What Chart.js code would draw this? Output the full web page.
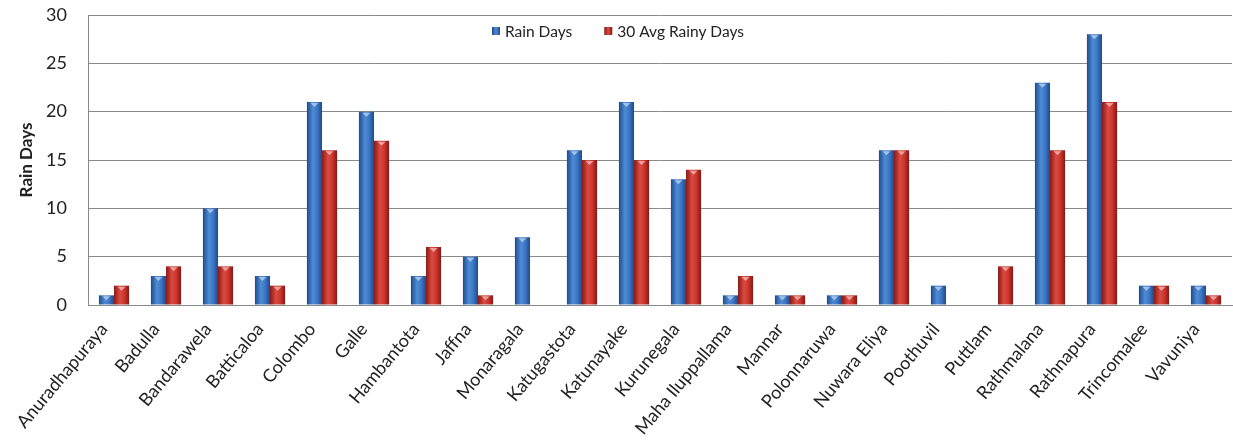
<!DOCTYPE html>
<html>
<head>
<meta charset="utf-8">
<script src="https://cdn.jsdelivr.net/npm/chart.js@4.4.0/dist/chart.umd.min.js"></script>
<style>
  body { margin: 0; background: #fff; }
  #wrap { width: 1233px; height: 446px; position: relative; }
</style>
</head>
<body>
<div id="wrap"><canvas id="chart"></canvas></div>
<script>
var stations = ['Anuradhapuraya', 'Badulla', 'Bandarawela', 'Batticaloa', 'Colombo', 'Galle',
  'Hambantota', 'Jaffna', 'Monaragala', 'Katugastota', 'Katunayake', 'Kurunegala',
  'Maha Iluppallama', 'Mannar', 'Polonnaruwa', 'Nuwara Eliya', 'Poothuvil', 'Puttlam',
  'Rathmalana', 'Rathnapura', 'Trincomalee', 'Vavuniya'];
var rainDays = [1, 3, 10, 3, 21, 20, 3, 5, 7, 16, 21, 13, 1, 1, 1, 16, 2, 0, 23, 28, 2, 2];
var avgRainyDays = [2, 4, 4, 2, 16, 17, 6, 1, 0, 15, 15, 14, 3, 1, 1, 16, 0, 4, 16, 21, 2, 1];
var yTicks = [0, 5, 10, 15, 20, 25, 30];

var fontFamily = "Lato, 'Open Sans', sans-serif";

// dark edge, light middle, dark edge
var shades = [
  ['#1d4c8c', '#4f8bd6', '#3a74c4', '#1d4a88'],
  ['#8a1a16', '#dc4a42', '#c9342d', '#861712']
];

var shadePlugin = {
  id: 'shade',
  beforeDatasetsDraw: function(chart) {
    var ctx = chart.ctx;
    chart.data.datasets.forEach(function(ds, i) {
      var meta = chart.getDatasetMeta(i);
      var c = shades[i];
      meta.data.forEach(function(bar) {
        var left = bar.x - bar.width / 2;
        var g = ctx.createLinearGradient(left, 0, left + bar.width, 0);
        g.addColorStop(0, c[0]);
        g.addColorStop(0.4, c[1]);
        g.addColorStop(0.7, c[2]);
        g.addColorStop(1, c[3]);
        // own options object per bar, the resolved one is shared
        bar.options = Object.assign({}, bar.options, { backgroundColor: g });
      });
    });
  },
  afterDatasetsDraw: function(chart) {
    var ctx = chart.ctx;
    chart.data.datasets.forEach(function(ds, i) {
      var meta = chart.getDatasetMeta(i);
      meta.data.forEach(function(bar) {
        if (bar.base - bar.y < 3) return;
        var cx = bar.x;
        ctx.save();
        ctx.fillStyle = 'rgba(255,255,255,0.5)';
        ctx.beginPath();
        ctx.moveTo(cx - 4, bar.y + 1);
        ctx.lineTo(cx + 4, bar.y + 1);
        ctx.lineTo(cx, bar.y + 5);
        ctx.closePath();
        ctx.fill();
        ctx.restore();
      });
    });
  }
};

// legend sits inside the plot, a bit left of centre
var legendPlugin = {
  id: 'insideLegend',
  afterDraw: function(chart) {
    var ctx = chart.ctx;
    var items = chart.data.datasets;
    var box = 8, gap = 5, spacing = 32;
    ctx.save();
    ctx.font = '15.5px ' + fontFamily;
    ctx.textBaseline = 'middle';
    var total = 0;
    items.forEach(function(ds, i) {
      total += box + gap + ctx.measureText(ds.label).width;
      if (i < items.length - 1) total += spacing;
    });
    var x = 618 - total / 2;
    var y = 31;
    items.forEach(function(ds, i) {
      var g = ctx.createLinearGradient(x, 0, x + box, 0);
      g.addColorStop(0, shades[i][0]);
      g.addColorStop(0.5, shades[i][1]);
      g.addColorStop(1, shades[i][3]);
      ctx.fillStyle = g;
      ctx.fillRect(x, y - box / 2, box, box);
      x += box + gap;
      ctx.fillStyle = '#222';
      ctx.fillText(ds.label, x, y + 1);
      x += ctx.measureText(ds.label).width + spacing;
    });
    ctx.restore();
  }
};

new Chart(document.getElementById('chart'), {
  type: 'bar',
  data: {
    labels: stations,
    datasets: [
      { label: 'Rain Days', data: rainDays, backgroundColor: '#2f6cc0', borderWidth: 0 },
      { label: '30 Avg Rainy Days', data: avgRainyDays, backgroundColor: '#c9302b', borderWidth: 0 }
    ]
  },
  options: {
    responsive: true,
    maintainAspectRatio: false,
    animation: false,
    layout: { padding: { top: 15, right: 1, left: 0, bottom: 0 } },
    datasets: { bar: { categoryPercentage: 0.58, barPercentage: 1 } },
    plugins: {
      tooltip: { enabled: false },
      legend: { display: false }
    },
    scales: {
      x: {
        grid: { display: false },
        border: { display: true, color: '#8a8a8a', width: 1 },
        ticks: {
          autoSkip: false,
          maxRotation: 50,
          minRotation: 50,
          padding: 6,
          labelOffset: -10,
          color: '#222',
          font: { family: fontFamily, size: 18 }
        },
        afterFit: function(scale) { scale.height = 141; }
      },
      y: {
        min: 0,
        max: 30,
        afterBuildTicks: function(scale) {
          scale.ticks = yTicks.map(function(v) { return { value: v }; });
        },
        grid: { color: '#8a8a8a', drawTicks: false },
        border: { display: true, color: '#8a8a8a', width: 1 },
        ticks: {
          padding: 21,
          color: '#222',
          font: { family: fontFamily, size: 18 }
        },
        title: {
          display: true,
          text: 'Rain Days',
          color: '#222',
          padding: { top: 16, bottom: 0 },
          font: { family: fontFamily, size: 17, weight: 'bold' }
        },
        afterFit: function(scale) {
          scale.width = 88;
          scale.paddingTop = 0;
          scale.paddingBottom = 0;
        }
      }
    }
  },
  plugins: [shadePlugin, legendPlugin]
});
</script>
</body>
</html>
